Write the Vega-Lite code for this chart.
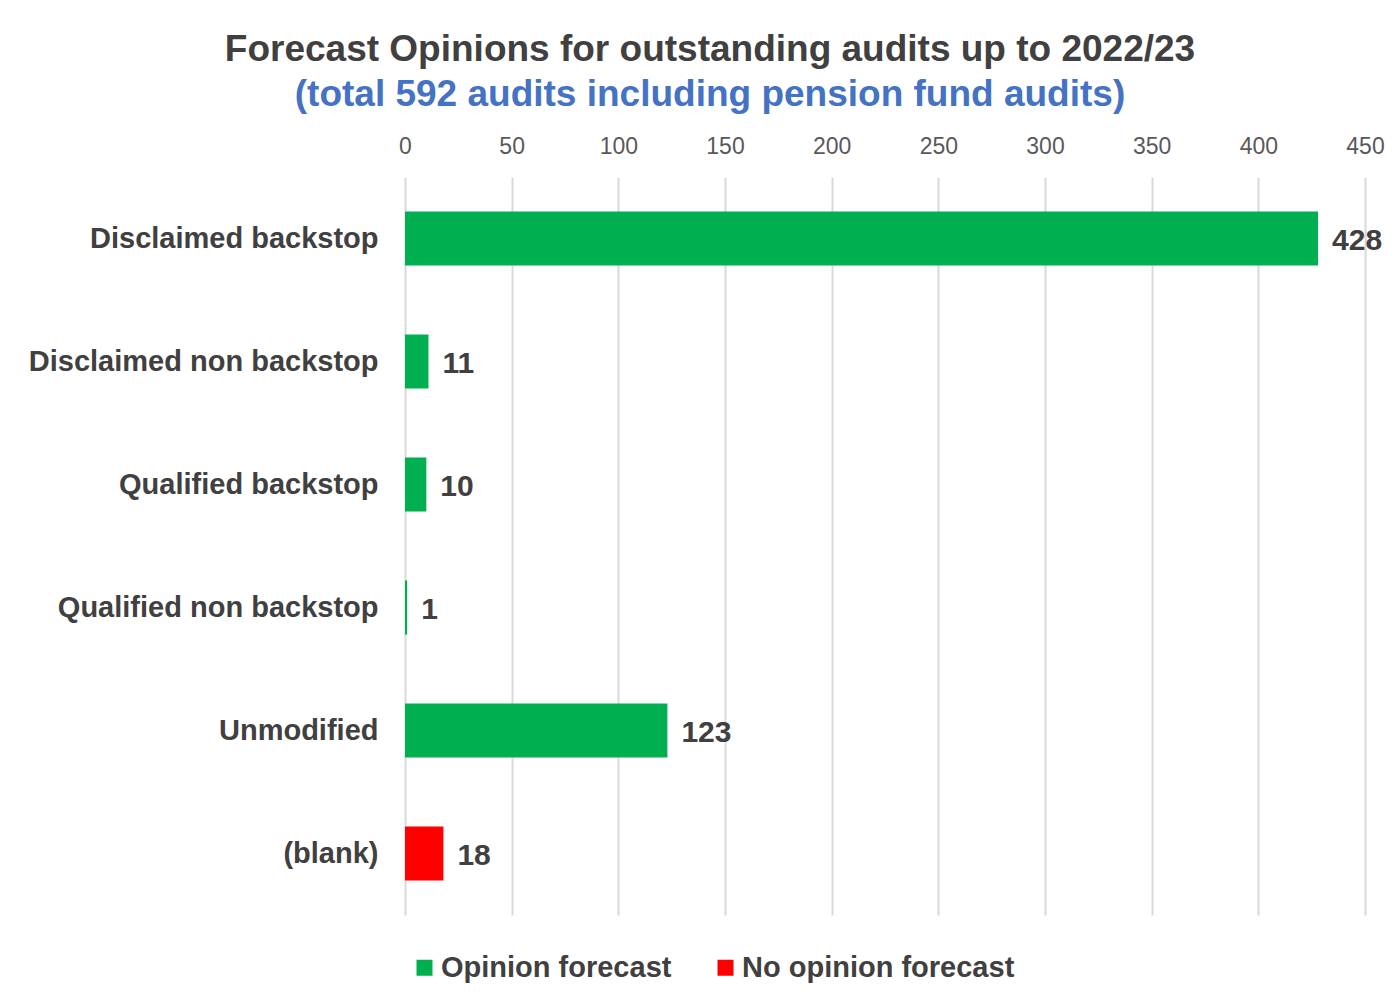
{
  "$schema": "https://vega.github.io/schema/vega-lite/v6.json",
  "width": 960,
  "height": 738,
  "autosize": {"type": "none"},
  "padding": {"left": 405, "top": 177, "right": 33, "bottom": 89},
  "background": "white",
  "config": {
    "font": "Liberation Sans",
    "view": {"stroke": null}
  },
  "title": {
    "text": "Forecast Opinions for outstanding audits up to 2022/23",
    "subtitle": "(total 592 audits including pension fund audits)",
    "font": "Liberation Sans",
    "fontSize": 37,
    "fontWeight": "bold",
    "color": "#404040",
    "subtitleFont": "Liberation Sans",
    "subtitleFontSize": 37,
    "subtitleFontWeight": "bold",
    "subtitleColor": "#4472C4",
    "subtitlePadding": 8,
    "anchor": "middle",
    "dx": -175,
    "offset": 21
  },
  "data": {
    "values": [
      {"category": "Disclaimed backstop", "series": "Opinion forecast", "count": 428},
      {"category": "Disclaimed non backstop", "series": "Opinion forecast", "count": 11},
      {"category": "Qualified backstop", "series": "Opinion forecast", "count": 10},
      {"category": "Qualified non backstop", "series": "Opinion forecast", "count": 1},
      {"category": "Unmodified", "series": "Opinion forecast", "count": 123},
      {"category": "(blank)", "series": "No opinion forecast", "count": 18}
    ]
  },
  "encoding": {
    "y": {
      "field": "category",
      "type": "nominal",
      "sort": null,
      "scale": {"paddingInner": 0.56, "paddingOuter": 0.28},
      "axis": {
        "title": null,
        "domain": false,
        "ticks": false,
        "labelPadding": 27,
        "labelFontSize": 29,
        "labelFontWeight": "bold",
        "labelColor": "#404040",
        "labelFont": "Liberation Sans",
        "labelLimit": 400
      }
    },
    "x": {
      "field": "count",
      "type": "quantitative",
      "scale": {"domain": [0, 450], "nice": false},
      "axis": {
        "orient": "top",
        "title": null,
        "values": [0, 50, 100, 150, 200, 250, 300, 350, 400, 450],
        "domain": false,
        "ticks": false,
        "labelFlush": false,
        "labelBound": false,
        "labelPadding": 19,
        "labelFontSize": 23,
        "labelColor": "#595959",
        "labelFont": "Liberation Sans",
        "grid": true,
        "gridColor": "#d9d9d9",
        "gridWidth": 2
      }
    }
  },
  "layer": [
    {
      "mark": {"type": "bar"},
      "encoding": {
        "color": {
          "field": "series",
          "type": "nominal",
          "scale": {
            "domain": ["Opinion forecast", "No opinion forecast"],
            "range": ["#00B050", "#FF0000"]
          },
          "legend": {
            "title": null,
            "orient": "none",
            "direction": "horizontal",
            "legendX": 5,
            "legendY": 776,
            "symbolType": "square",
            "symbolSize": 256,
            "symbolStrokeWidth": 0,
            "labelFontSize": 29,
            "labelFontWeight": "bold",
            "labelColor": "#404040",
            "labelFont": "Liberation Sans",
            "labelLimit": 400,
            "labelOffset": 2,
            "columnPadding": 39
          }
        }
      }
    },
    {
      "mark": {
        "type": "text",
        "align": "left",
        "baseline": "middle",
        "dx": 14,
        "dy": 2,
        "fontSize": 30,
        "fontWeight": "bold",
        "color": "#404040",
        "font": "Liberation Sans"
      },
      "encoding": {
        "text": {"field": "count", "type": "quantitative"}
      }
    }
  ]
}
